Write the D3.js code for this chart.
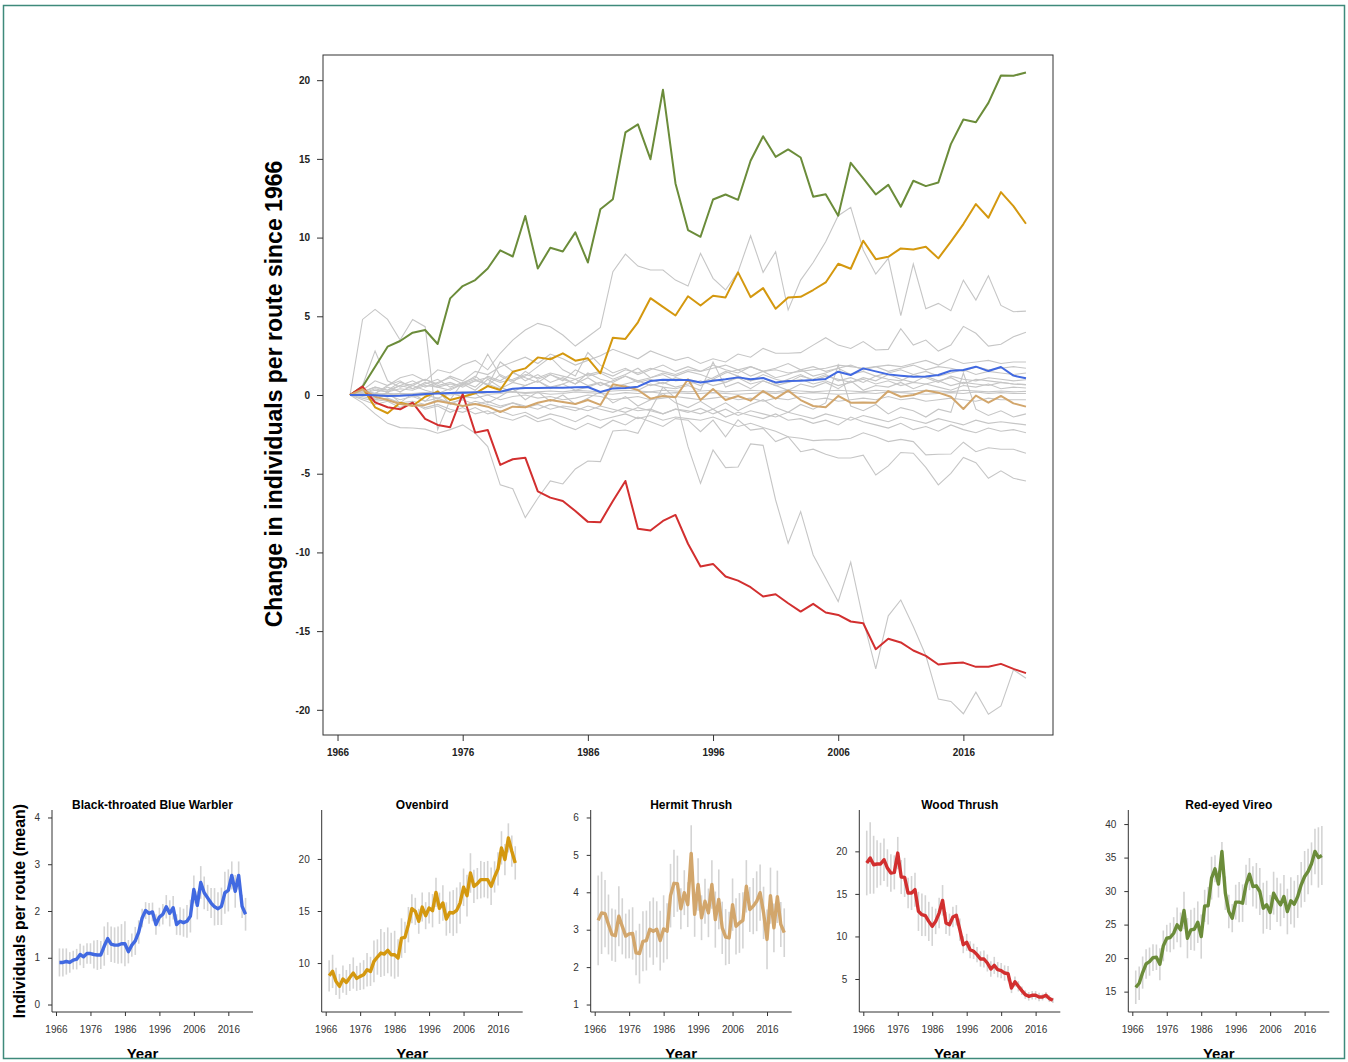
<!DOCTYPE html>
<html>
<head>
<meta charset="utf-8">
<script src="https://cdn.jsdelivr.net/npm/d3@7"></script>
<style>
  body { margin: 0; background: #fff; }
  svg { display: block; }
  text { font-family: "Liberation Sans", Arial, Helvetica, sans-serif; }
</style>
</head>
<body>
<svg id="chart" width="1348" height="1062"></svg>
<script>
// ---- data ----
const years = d3.range(1967, 2022)   // 1967 .. 2021, 55 surveys
const mainXTicks = [1966, 1976, 1986, 1996, 2006, 2016]
const mainYTicks = [-20, -15, -10, -5, 0, 5, 10, 15, 20]

// change in individuals per route since the first survey (main panel, coloured species)
const reviChange = [0, 0.53, 1.8, 3.07, 3.43, 3.96, 4.13, 3.24, 6.14, 6.92,
  7.3, 8.04, 9.19, 8.8, 11.37, 8.04, 9.35, 9.12, 10.33, 8.42,
  11.8, 12.44, 16.68, 17.19, 14.98, 19.39, 13.44, 10.48, 10.05, 12.42,
  12.74, 12.4, 14.88, 16.44, 15.13, 15.6, 15.09, 12.6, 12.76, 11.39,
  14.75, 13.76, 12.74, 13.35, 11.96, 13.61, 13.27, 13.5, 15.94, 17.5,
  17.33, 18.56, 20.3, 20.28, 20.49]
const ovenChange = [0, 0.47, -0.78, -1.16, -0.49, -0.68, -0.11, 0.21, -0.32, -0.11,
  0.11, 0.57, 0.32, 1.48, 1.69, 2.39, 2.27, 2.65, 2.18, 2.33,
  1.38, 3.64, 3.56, 4.62, 6.15, 5.6, 5.05, 6.27, 5.69, 6.31,
  6.2, 7.79, 6.22, 6.79, 5.48, 6.2, 6.24, 6.67, 7.15, 8.34,
  8.02, 9.8, 8.63, 8.78, 9.31, 9.25, 9.42, 8.68, 9.74, 10.86,
  12.13, 11.26, 12.89, 12.0, 10.88]
const wothChange = [0, 0.53, -0.47, -0.78, -0.91, -0.49, -1.52, -1.9, -2.05, 0.06,
  -2.39, -2.22, -4.44, -4.08, -3.98, -6.12, -6.52, -6.73, -7.37, -8.06,
  -8.08, -6.73, -5.46, -8.49, -8.61, -8.0, -7.62, -9.45, -10.9, -10.73,
  -11.53, -11.79, -12.21, -12.8, -12.66, -13.23, -13.76, -13.27, -13.82, -13.97,
  -14.39, -14.5, -16.15, -15.49, -15.72, -16.23, -16.57, -17.12, -17.04, -17.0,
  -17.27, -17.27, -17.08, -17.4, -17.67]
const btbwChange = [0, 0, -0.02, -0.06, -0.04, 0, 0.06, 0.1, 0.13, 0.15,
  0.17, 0.19, 0.21, 0.4, 0.44, 0.44, 0.46, 0.46, 0.49, 0.51,
  0.19, 0.42, 0.44, 0.53, 0.89, 0.97, 0.95, 0.95, 0.8, 0.91,
  1.0, 1.12, 1.0, 1.08, 0.8, 0.89, 0.91, 0.95, 1.02, 1.48,
  1.27, 1.69, 1.5, 1.31, 1.23, 1.16, 1.18, 1.27, 1.54, 1.59,
  1.8, 1.52, 1.78, 1.23, 1.06]
const hethChange = [0, 0.36, -0.11, -0.32, -0.57, -0.68, -0.63, -0.38, -0.53, -0.7,
  -0.57, -0.74, -1.08, -0.74, -0.78, -0.49, -0.32, -0.45, -0.57, -0.32,
  -0.63, 0.68, 0.53, 0.32, -0.23, -0.06, -0.15, 1.0, -0.32, 0.38,
  -0.32, -0.06, -0.36, 0.25, -0.23, 0.28, -0.32, -0.7, -0.78, -0.06,
  -0.49, -0.47, -0.49, 0.25, -0.11, 0, 0.28, 0.15, -0.11, -0.89,
  -0.04, -0.49, -0.06, -0.53, -0.74]

// other forest species (grey background lines)
const otherChange = [
  [0, 0.3, 0.9, 0.6, 1.1, 1.3, 0.9, 1.6, 1.4, 1.9,
   2.2, 1.6, 2.65, 3.49, 4.13, 4.55, 4.34, 3.81, 3.11, 3.7,
   4.3, 7.83, 8.95, 8.19, 7.94, 7.94, 7.3, 6.92, 9.0, 7.41,
   6.67, 7.83, 10.12, 7.79, 9.1, 5.4, 7.3, 8.42, 9.74, 11.39,
   11.92, 9.21, 7.68, 8.68, 5.04, 8.32, 5.48, 5.82, 5.35, 7.3,
   6.03, 7.58, 5.69, 5.29, 5.33],
  [0, 0.2, 0.5, 0.3, 0.8, 0.6, 1.0, 0.7, 1.2, 0.9,
   1.5, 1.3, 1.8, 2.1, 2.4, 2.0, 2.6, 2.3, 1.9, 2.2,
   2.5, 2.9, 2.6, 2.3, 2.8, 2.5, 2.2, 2.4, 2.0, 2.3,
   2.1, 2.6, 2.4, 2.96, 2.65, 2.65, 2.69, 3.17, 3.64, 3.17,
   2.96, 3.39, 2.86, 2.9, 4.21, 3.17, 3.49, 2.79, 3.17, 4.36,
   3.92, 3.11, 3.22, 3.7, 3.98],
  [0, 4.8, 5.44, 4.8, 3.49, 4.8, 4.34, -2.2, -0.3, 0.8,
   0.5, 1.2, 0.9, 1.4, 1.1, 0.8, 1.3, 1.0, 0.7, 1.1,
   0.6, 0.9, 1.2, 0.8, 1.0, 0.7, 1.1, 0.9, 0.6, 1.0,
   0.8, 1.2, 0.9, 1.1, 0.7, 1.0, 1.3, 0.9, 1.2, 1.0,
   0.8, 1.1, 0.9, 1.3, 1.0, 0.8, 1.2, 0.9, 1.1, 0.7,
   1.0, 0.9, 0.8, 0.7, 0.66],
  [0, -0.5, -1.2, -1.8, -2.07, -2.1, -2.17, -2.43, -2.2, -1.9,
   -2.43, -3.28, -5.71, -5.95, -7.79, -6.56, -5.46, -5.65, -4.7, -4.19,
   -4.23, -2.29, -2.22, -2.43, -0.95, 0.5, -0.2, -3.28, -5.61, -3.49,
   -4.61, -4.57, -3.11, -3.2, -6.67, -9.42, -7.41, -10.16, -11.64, -13.12,
   -10.62, -14.29, -17.4, -14.03, -13.02, -14.71, -16.55, -19.32, -19.47, -20.25,
   -18.88, -20.28, -19.75, -17.46, -17.99],
  [0, -0.3, -0.6, -0.4, -0.8, -0.5, -0.9, -0.7, -1.1, -0.8,
   -1.2, -1.0, -1.4, -1.6, -1.3, -1.7, -1.5, -1.9, -2.2, -1.8,
   -2.1, -1.6, -1.9, -1.4, -1.7, -2.0, -1.5, -1.6, -2.33, -1.6,
   -2.65, -1.57, -2.23, -2.12, -2.96, -2.65, -3.6, -3.44, -3.76, -4.0,
   -4.0, -3.82, -5.08, -4.5, -3.65, -3.7, -4.6, -5.71, -4.98, -3.97,
   -4.3, -5.29, -4.82, -5.29, -5.46],
  [0, -0.2, -0.4, -0.3, -0.6, -0.5, -0.8, -0.6, -0.9, -1.1,
   -0.8, -1.2, -1.0, -1.3, -1.1, -1.5, -1.2, -1.4, -1.7, -1.3,
   -1.6, -1.4, -1.2, -1.5, -1.3, -1.6, -1.4, -1.5, -1.6, -1.4,
   -1.7, -2.0, -1.8, -2.07, -2.3, -2.65, -2.75, -2.9, -2.85, -2.85,
   -2.75, -2.4, -2.65, -2.96, -2.82, -2.96, -3.8, -3.76, -3.75, -3.0,
   -3.6, -3.35, -3.45, -3.45, -3.7],
  [0, -0.1, -0.3, -0.2, -0.5, -0.4, -0.6, -0.3, -0.5, -0.7,
   -0.4, -0.6, -0.8, -0.5, -0.7, -0.9, -0.6, -0.8, -1.0, -0.7,
   -0.9, -1.1, -0.8, -1.0, -0.9, -1.2, -0.9, -1.0, -1.2, -0.9,
   -1.4, -1.1, -1.3, -1.5, -1.2, -1.6, -1.5, -1.8, -1.6, -1.9,
   -1.4, -1.7, -1.9, -2.1, -1.8, -2.2, -2.0, -2.3, -1.9, -2.2,
   -2.4, -2.1, -2.3, -2.2, -2.4],
  [0, 0.1, -0.2, 0.0, -0.3, -0.1, -0.4, -0.2, -0.5, -0.3,
   -0.6, -0.4, -0.7, -0.5, -0.8, -0.6, -0.9, -0.7, -0.8, -1.0,
   -0.7, -0.9, -1.1, -0.8, -1.0, -1.2, -0.9, -1.1, -0.85, -1.2,
   -0.9, -1.3, -1.0, -1.2, -1.4, -1.1, -1.3, -1.5, -1.2, -1.4,
   -1.6, -1.3, -1.5, -1.7, -1.4, -1.6, -1.8, -1.5, -1.7, -1.9,
   -1.6, -1.8, -1.7, -1.8, -1.9],
  [0, 0.4, -0.3, 0.2, -0.5, 0.1, -0.4, 0.3, -0.6, -0.2,
   0.1, -0.5, -0.1, 0.4, -0.3, 0.2, -0.4, 0.0, -0.6, -0.2,
   0.2, -0.5, -0.1, -0.7, -0.3, 0.1, -0.5, -0.8, -0.4, -0.9,
   -0.5, -1.0, -0.6, -0.3, -0.8, -1.1, -0.6, -0.9, -0.5, 1.9,
   -0.7, -1.0, -0.6, -1.2, -0.8, -1.0, -1.4, -0.9, -1.1, 1.4,
   -0.9, -1.3, -1.0, -1.4, -1.2],
  [0, 0.1, 0.0, -0.1, 0.1, -0.1, 0.0, -0.2, 0.1, -0.1,
   -0.2, 0.0, -0.3, -0.1, 0.0, -0.2, -0.1, -0.3, -0.2, 0.0,
   -0.1, -0.3, -0.2, -0.1, -0.3, -0.2, -0.1, -0.2, -0.3, -0.2,
   -0.1, -0.3, -0.2, -0.4, -0.2, -0.3, -0.1, -0.3, -0.2, -0.4,
   -0.3, -0.2, -0.3, -0.1, -0.3, -0.2, -0.4, -0.3, -0.2, -0.3,
   -0.4, -0.2, -0.3, -0.3, -0.3],
  [0, 0.05, 0.1, 0.0, 0.1, 0.05, 0.15, 0.1, 0.0, 0.1,
   0.15, 0.05, 0.1, 0.2, 0.1, 0.15, 0.05, 0.1, 0.2, 0.15,
   0.1, 0.05, 0.15, 0.1, 0.2, 0.1, 0.15, 0.1, 0.1, 0.15,
   0.1, 0.05, 0.1, 0.15, 0.1, 0.2, 0.1, 0.15, 0.1, 0.05,
   0.1, 0.15, 0.1, 0.2, 0.15, 0.1, 0.05, 0.1, 0.15, 0.1,
   0.2, 0.1, 0.15, 0.1, 0.1],
  [0, 0.0, 0.05, 0.1, 0.05, 0.1, 0.15, 0.1, 0.15, 0.2,
   0.15, 0.2, 0.25, 0.2, 0.15, 0.2, 0.25, 0.2, 0.3, 0.25,
   0.2, 0.25, 0.3, 0.25, 0.2, 0.3, 0.25, 0.2, 0.25, 0.3,
   0.2, 0.25, 0.3, 0.25, 0.2, 0.3, 0.25, 0.2, 0.25, 0.3,
   0.25, 0.2, 0.3, 0.25, 0.2, 0.25, 0.3, 0.25, 0.2, 0.3,
   0.25, 0.2, 0.25, 0.2, 0.23],
  [0, 0.3, 0.1, 0.5, 0.2, 0.6, 0.3, 0.1, 0.4, 0.7,
   0.3, 1.0, 0.5, 0.2, 0.6, 0.9, 0.4, 0.7, 0.3, 0.5,
   0.8, 0.4, 0.6, 0.3, 0.7, 0.5, 0.4, 0.6, 0.3, 2.1,
   0.5, 0.8, 0.4, 0.9, 0.6, 0.3, 0.7, 0.5, 0.8, 0.4,
   0.9, 0.3, 0.6, 0.5, 0.8, 0.4, 0.7, 0.5, 0.3, 0.6,
   0.5, 0.7, 0.4, 0.5, 0.44],
  [0, 0.6, 2.8, 0.9, 0.5, 0.7, 1.0, 0.6, 0.8, 0.5,
   0.9, 0.7, 0.4, 0.8, 0.6, 0.9, 0.5, 0.7, 1.0, 0.6,
   0.8, 0.5, 0.7, 0.9, 0.6, 0.8, 0.5, 0.7, 0.9, 0.6,
   0.8, 1.1, 0.7, 0.9, 0.6, 0.8, 1.0, 0.7, 0.9, 0.6,
   0.8, 1.0, 0.7, 0.9, 0.6, 0.8, 0.7, 0.9, 0.6, 0.8,
   0.7, 0.6, 0.8, 0.7, 0.66],
  [0, 0.2, 0.5, 0.3, 0.6, 0.4, 0.8, 0.5, 0.3, 0.7,
   1.2, 0.6, 2.1, 1.5, 0.9, 1.3, 0.8, 1.1, 0.7, 1.4,
   1.0, 0.8, 1.2, 0.9, 1.1, 1.3, 0.9, 1.0, 0.8, 1.1,
   1.5, 1.2, 0.9, 1.3, 1.0, 0.8, 1.2, 1.0, 1.3, 0.9,
   1.1, 0.8, 1.2, 1.0, 0.9, 1.3, 1.1, 0.8, 1.2, 1.0,
   0.9, 1.1, 1.0, 0.9, 0.97],
  [0, 0.3, 0.1, 0.6, 0.9, 0.4, 0.7, 1.0, 0.5, 0.8,
   1.1, 2.6, 1.2, 0.8, 1.5, 1.0, 1.3, 0.9, 1.6, 1.2,
   1.4, 1.0, 1.3, 1.7, 1.1, 1.4, 1.2, 1.5, 1.3, 1.0,
   1.4, 1.6, 1.2, 1.5, 1.1, 1.3, 1.6, 1.2, 1.4, 1.7,
   1.3, 1.5, 1.2, 1.4, 1.6, 1.3, 1.5, 1.2, 1.4, 1.6,
   1.3, 1.5, 1.4, 1.3, 1.4],
  [0, 0.1, 0.4, 0.2, 0.6, 0.9, 0.5, 0.8, 1.1, 0.7,
   1.0, 0.6, 1.3, 0.9, 1.2, 1.8, 2.4, 1.6, 1.2, 2.7,
   1.9, 1.4, 1.7, 1.3, 1.6, 1.9, 1.5, 1.8, 1.5, 1.9,
   1.6, 1.4, 1.8, 1.5, 1.7, 2.0, 1.6, 1.8, 1.5, 1.7,
   1.9, 1.6, 1.8, 1.5, 1.7, 1.9, 1.6, 1.8, 1.7, 1.5,
   1.8, 1.6, 1.7, 1.8, 1.7],
  [0, 0.1, 0.3, 0.2, 0.4, 0.3, 0.6, 0.5, 0.7, 0.6,
   0.9, 1.1, 0.8, 1.0, 1.3, 1.1, 1.4, 1.2, 1.0, 1.3,
   1.5, 1.2, 1.6, 1.4, 1.7, 1.5, 1.3, 1.6, 1.5, 1.7,
   1.9, 1.6, 1.8, 1.5, 1.6, 1.4, 1.5, 1.6, 1.7, 1.9,
   1.8, 1.7, 1.8, 1.9, 1.8, 2.0, 2.2, 1.9, 2.3, 2.0,
   2.1, 2.2, 2.0, 2.1, 2.1]
]

// small panels: mean individuals per route and half width of the interval
const speciesNames = ["Black-throated Blue Warbler", "Ovenbird", "Hermit Thrush", "Wood Thrush", "Red-eyed Vireo"]
const btbwMean = [0.9, 0.9, 0.92, 0.9, 0.95, 0.97, 1.07, 1.02, 1.09, 1.09,
  1.07, 1.06, 1.06, 1.25, 1.41, 1.29, 1.27, 1.27, 1.3, 1.3,
  1.13, 1.27, 1.36, 1.55, 1.85, 2.01, 1.95, 1.98, 1.71, 1.87,
  1.93, 2.09, 1.95, 2.07, 1.71, 1.78, 1.75, 1.78, 1.89, 2.46,
  2.12, 2.61, 2.39, 2.28, 2.17, 2.09, 2.05, 2.1, 2.39, 2.44,
  2.76, 2.42, 2.76, 2.1, 1.93]
const btbwErr = [0.3, 0.3, 0.28, 0.22, 0.2, 0.22, 0.23, 0.24, 0.22, 0.22,
  0.3, 0.32, 0.3, 0.42, 0.35, 0.38, 0.38, 0.4, 0.42, 0.48,
  0.25, 0.25, 0.3, 0.25, 0.2, 0.18, 0.22, 0.2, 0.22, 0.2,
  0.22, 0.25, 0.28, 0.25, 0.22, 0.3, 0.3, 0.35, 0.35, 0.3,
  0.3, 0.35, 0.35, 0.28, 0.32, 0.4, 0.35, 0.4, 0.45, 0.45,
  0.3, 0.35, 0.3, 0.25, 0.35]
const ovenMean = [8.78, 9.2, 8.24, 7.76, 8.46, 8.14, 8.62, 9.04, 8.53, 8.72,
  8.88, 9.36, 9.2, 10.16, 10.58, 10.96, 10.87, 11.22, 10.8, 10.8,
  10.48, 12.4, 12.47, 13.69, 15.22, 14.97, 14.01, 15.38, 14.55, 15.29,
  15.03, 16.79, 15.26, 15.77, 14.23, 14.87, 14.81, 15.06, 15.77, 17.28,
  16.47, 18.65, 17.37, 17.63, 18.01, 18.01, 18.01, 17.37, 18.27, 19.04,
  21.06, 19.94, 22.02, 20.74, 19.62]
const ovenErr = [1.5, 1.6, 1.3, 1.2, 1.3, 1.2, 1.3, 1.5, 1.2, 1.3,
  1.4, 1.6, 1.4, 2.0, 1.7, 2.3, 2.1, 2.2, 2.1, 2.3,
  1.8, 1.9, 1.5, 1.7, 1.4, 1.3, 1.2, 1.4, 1.3, 1.5,
  1.6, 1.4, 1.5, 1.7, 1.6, 2.0, 2.2, 2.2, 2.0, 1.8,
  2.0, 1.9, 1.6, 1.5, 1.8, 1.7, 1.8, 1.8, 1.5, 1.6,
  1.6, 1.5, 1.4, 1.5, 1.6]
const hethMean = [3.25, 3.45, 3.43, 3.14, 2.87, 2.84, 3.36, 3.09, 2.83, 2.89,
  2.9, 2.38, 2.36, 2.69, 2.71, 3.01, 2.96, 3.01, 2.71, 3.02,
  2.96, 3.91, 4.24, 4.23, 3.56, 3.99, 3.67, 5.04, 3.41, 4.21,
  3.32, 3.76, 3.45, 4.21, 3.27, 3.81, 3.05, 2.8, 2.78, 3.67,
  3.09, 3.18, 3.25, 4.16, 3.54, 3.63, 3.76, 3.99, 3.45, 2.74,
  3.91, 3.05, 3.88, 3.14, 2.92]
const hethErr = [1.2, 1.1, 0.9, 0.8, 0.7, 0.7, 0.8, 0.75, 0.6, 0.65,
  0.7, 0.6, 0.8, 0.8, 0.8, 0.75, 0.9, 0.75, 0.8, 0.9,
  0.75, 0.85, 0.9, 0.75, 0.55, 0.6, 0.6, 0.75, 0.6, 0.7,
  0.6, 0.6, 0.65, 0.65, 0.75, 0.8, 0.7, 0.75, 0.7, 0.7,
  0.75, 0.8, 0.75, 0.7, 0.6, 0.75, 0.8, 0.75, 0.7, 0.8,
  0.75, 0.65, 0.7, 0.6, 0.65]
const wothMean = [18.63, 19.22, 18.43, 18.51, 18.51, 19.02, 18.04, 17.45, 17.53, 19.8,
  16.98, 16.94, 15.1, 15.1, 15.5, 12.95, 12.56, 12.44, 11.77, 11.19,
  11.77, 12.75, 14.24, 11.58, 11.38, 12.28, 12.48, 10.8, 9.03, 9.31,
  8.44, 8.25, 7.86, 7.35, 7.35, 6.88, 6.17, 6.6, 6.09, 5.98,
  5.7, 5.62, 3.94, 4.68, 4.14, 3.63, 3.16, 2.96, 3.08, 3.08,
  2.88, 2.88, 3.08, 2.69, 2.49]
const wothErr = [3.8, 4.2, 3.4, 2.8, 2.5, 2.5, 2.2, 2.2, 2.0, 1.9,
  2.0, 2.3, 1.8, 2.0, 2.0, 2.3, 2.5, 2.4, 2.3, 2.3,
  1.5, 1.8, 1.8, 1.3, 1.3, 1.2, 1.2, 1.3, 1.0, 1.0,
  1.0, 0.9, 0.9, 0.9, 1.0, 1.0, 0.9, 1.0, 0.9, 0.9,
  0.9, 0.9, 0.6, 0.6, 0.6, 0.5, 0.5, 0.5, 0.5, 0.5,
  0.5, 0.4, 0.4, 0.4, 0.3]
const reviMean = [15.65, 16.25, 17.84, 19.13, 19.48, 20.08, 20.13, 19.08, 21.82, 22.97,
  23.07, 23.71, 24.96, 24.21, 27.1, 22.97, 24.21, 24.31, 25.36, 23.22,
  27.8, 27.8, 31.93, 33.33, 31.04, 35.92, 29.69, 26.95, 25.96, 28.35,
  28.35, 28.2, 30.94, 32.53, 30.69, 30.79, 29.94, 27.45, 27.95, 26.8,
  29.69, 28.69, 27.95, 29.19, 26.95, 28.55, 28.05, 29.19, 30.94, 32.18,
  32.93, 34.07, 35.92, 35.02, 35.32]
const reviErr = [2.5, 2.5, 2.4, 2.2, 2.1, 2.0, 1.9, 2.4, 2.3, 2.0,
  2.2, 2.4, 2.6, 2.6, 2.8, 3.0, 3.0, 3.2, 3.1, 3.3,
  2.4, 2.8, 3.2, 2.0, 2.0, 1.4, 2.5, 2.5, 2.1, 2.6,
  3.0, 2.8, 3.0, 2.4, 3.0, 3.4, 3.5, 3.8, 3.6, 2.6,
  3.2, 3.3, 3.2, 3.2, 3.4, 3.5, 3.5, 3.2, 3.4, 3.8,
  3.4, 3.2, 3.4, 4.5, 4.4]

// ---- drawing ----
const W = 1348, H = 1062
const colors = { btbw: "#4169e1", oven: "#d4980f", heth: "#d2a66c", woth: "#d22f2f", revi: "#6b8c3a" }
const plainNum = d => String(d)   // keep ascii hyphen for negatives, like R
const svg = d3.select('#chart')
svg.append('rect').attr('width', W).attr('height', H).attr('fill', '#fff')

// main panel
let box = { left: 323, top: 55, right: 1053, bottom: 735 }
let x = d3.scaleLinear().domain([1964.84, 2023.16]).range([box.left, box.right])
let y = d3.scaleLinear().domain([-21.6, 21.6]).range([box.bottom, box.top])

let line = d3.line()
    .x((d, i) => x(years[i]))
    .y(d => y(d))

let mainG = svg.append('g')
mainG.selectAll('.grey')
    .data(otherChange)
    .enter()
    .append('path')
    .attr('class', 'grey')
    .attr('d', line)
    .attr('fill', 'none')
    .attr('stroke', '#c6c6c6')
    .attr('stroke-width', 1.1)

let coloured = [
    [reviChange, colors.revi],
    [ovenChange, colors.oven],
    [wothChange, colors.woth],
    [hethChange, colors.heth],
    [btbwChange, colors.btbw]
]
coloured.forEach(function(c) {
    mainG.append('path')
        .attr('d', line(c[0]))
        .attr('fill', 'none')
        .attr('stroke', c[1])
        .attr('stroke-width', 2)
        .attr('stroke-linejoin', 'round')
})

mainG.append('rect')
    .attr('x', box.left).attr('y', box.top)
    .attr('width', box.right - box.left).attr('height', box.bottom - box.top)
    .attr('fill', 'none').attr('stroke', '#333').attr('stroke-width', 1)

let xAxis = mainG.append('g')
    .attr('transform', 'translate(0,' + box.bottom + ')')
    .call(d3.axisBottom(x).tickValues(mainXTicks).tickFormat(plainNum).tickSize(6).tickPadding(8))
let yAxis = mainG.append('g')
    .attr('transform', 'translate(' + box.left + ',0)')
    .call(d3.axisLeft(y).tickValues(mainYTicks).tickFormat(plainNum).tickSize(6).tickPadding(7))
;[xAxis, yAxis].forEach(function(a) {
    a.select('.domain').remove()
    a.selectAll('line').attr('stroke', '#333')
    a.selectAll('text').attr('fill', '#222').style('font-size', '10px').style('font-weight', 'bold')
        .style('font-family', '"Liberation Sans", Arial, sans-serif')
})

svg.append('text')
    .attr('transform', 'translate(282,394) rotate(-90)')
    .attr('text-anchor', 'middle')
    .style('font-size', '23px').style('font-weight', 'bold')
    .attr('fill', '#000')
    .text('Change in individuals per route since 1966')

// small panels
let panels = [
    { mean: btbwMean, err: btbwErr, color: colors.btbw, left: 52, dom: [-0.16, 4.16], ticks: [0, 1, 2, 3, 4] },
    { mean: ovenMean, err: ovenErr, color: colors.oven, left: 321.7, dom: [5.3, 24.7], ticks: [10, 15, 20] },
    { mean: hethMean, err: hethErr, color: colors.heth, left: 590.7, dom: [0.8, 6.2], ticks: [1, 2, 3, 4, 5, 6] },
    { mean: wothMean, err: wothErr, color: colors.woth, left: 859.3, dom: [1.12, 24.86], ticks: [5, 10, 15, 20] },
    { mean: reviMean, err: reviErr, color: colors.revi, left: 1128.3, dom: [11.96, 42.1], ticks: [15, 20, 25, 30, 35, 40] }
]
let pTop = 810, pBottom = 1012, pWidth = 201

panels.forEach(function(p, k) {
    let g = svg.append('g')
    let px = d3.scaleLinear().domain([1964.84, 2023.16]).range([p.left, p.left + pWidth])
    let py = d3.scaleLinear().domain(p.dom).range([pBottom, pTop])

    g.selectAll('.err')
        .data(p.mean)
        .enter()
        .append('line')
        .attr('x1', (d, i) => px(years[i]))
        .attr('x2', (d, i) => px(years[i]))
        .attr('y1', (d, i) => py(d - p.err[i]))
        .attr('y2', (d, i) => py(d + p.err[i]))
        .attr('stroke', '#d4d4d4')
        .attr('stroke-width', 1.6)

    let pline = d3.line().x((d, i) => px(years[i])).y(d => py(d))
    g.append('path')
        .attr('d', pline(p.mean))
        .attr('fill', 'none')
        .attr('stroke', p.color)
        .attr('stroke-width', 3.4)
        .attr('stroke-linejoin', 'round')

    // L-shaped frame
    g.append('path')
        .attr('d', 'M' + p.left + ',' + pTop + 'V' + pBottom + 'H' + (p.left + pWidth))
        .attr('fill', 'none').attr('stroke', '#333').attr('stroke-width', 1)

    let ax = g.append('g').attr('transform', 'translate(0,' + pBottom + ')')
        .call(d3.axisBottom(px).tickValues(mainXTicks).tickFormat(plainNum).tickSize(4).tickPadding(10))
    let ay = g.append('g').attr('transform', 'translate(' + p.left + ',0)')
        .call(d3.axisLeft(py).tickValues(p.ticks).tickFormat(plainNum).tickSize(4).tickPadding(8))
    ;[ax, ay].forEach(function(a) {
        a.select('.domain').remove()
        a.selectAll('line').attr('stroke', '#333')
        a.selectAll('text').attr('fill', '#333').style('font-size', '10px')
            .style('font-family', '"Liberation Sans", Arial, sans-serif')
    })

    g.append('text')
        .attr('x', p.left + pWidth / 2).attr('y', 809)
        .attr('text-anchor', 'middle')
        .style('font-size', '12px').style('font-weight', 'bold')
        .text(speciesNames[k])
    g.append('text')
        .attr('x', p.left + pWidth / 2 - 10).attr('y', 1059)
        .attr('text-anchor', 'middle')
        .style('font-size', '15px').style('font-weight', 'bold')
        .text('Year')
})

svg.append('text')
    .attr('transform', 'translate(25,911) rotate(-90)')
    .attr('text-anchor', 'middle')
    .style('font-size', '16px').style('font-weight', 'bold')
    .text('Individuals per route (mean)')

// outer frame
svg.append('rect')
    .attr('x', 3.5).attr('y', 5.5).attr('width', 1341).attr('height', 1053)
    .attr('fill', 'none').attr('stroke', '#3e8a7b').attr('stroke-width', 1.5)
</script>
</body>
</html>
